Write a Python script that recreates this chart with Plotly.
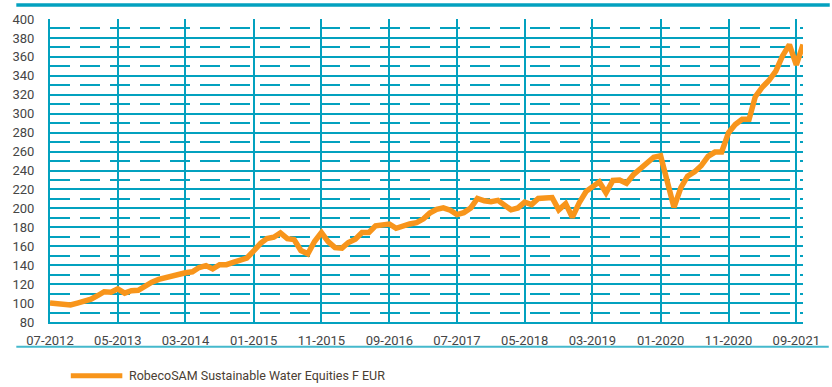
import pandas as pd
import plotly.graph_objects as go

# Monthly index level, starting July 2012 (base 100)
start_month = "2012-07-01"
fund_name = "RobecoSAM Sustainable Water Equities F EUR"
fund_values = [
    100, 99.5, 99.5, 98, 100, 102, 104, 108, 112, 111.5,
    115, 110.5, 113, 113.5, 118, 122, 125, 127, 128, 131.5,
    132, 133, 137.5, 139.5, 136, 140.5, 140.5, 143, 145, 147.5,
    155, 163, 168, 169.5, 174, 168, 167, 155.5, 152, 165,
    174.5, 165, 158.5, 158, 164, 167.5, 174.5, 174.5, 181.5, 183,
    183.5, 179, 182, 183.5, 185, 189, 195, 199, 200.5, 198,
    193.5, 195.5, 200.5, 210.5, 208, 207, 208.5, 202.5, 198.5, 200.5,
    206.5, 204, 210.5, 211, 211.5, 198.5, 205, 190.5, 206, 218,
    223, 228, 216.5, 229.5, 230, 226.5, 235.5, 241, 248, 254,
    255.5, 230, 201, 222, 234, 238.5, 245, 255, 259.5, 259.5,
    280, 288.5, 294, 294, 318, 328, 335, 345, 361, 373,
    351.5, 373,
]
dates = pd.date_range(start_month, periods=len(fund_values), freq="MS")

y_range = [80, 400]
y_step = 20
x_tick_step_months = 10

TEAL = "#03a1bf"
TEAL_LIGHT = "#45b9cc"
ORANGE = "#f8951b"
TEXT = "#454545"
LEGEND_TEXT = "#4a3e33"
FONT = "Roboto, 'Noto Sans', sans-serif"

fig = go.Figure()
fig.add_trace(
    go.Scatter(
        x=dates,
        y=fund_values,
        mode="lines",
        name=fund_name,
        line=dict(color=ORANGE, width=5.5, shape="linear"),
        showlegend=False,
        hoverinfo="x+y",
    )
)

# Geometry helpers (paper coordinates) for decorative rules and legend
L, R, T, B = 45, 27, 17, 65
W, H = 832, 387
pw, ph = W - L - R, H - T - B


def px_x(x):
    return (x - L) / pw


def px_y(y):
    return (H - B - y) / ph


shapes = [
    # heavy rule across the top of the panel
    dict(type="line", xref="paper", yref="paper",
         x0=px_x(11), x1=px_x(832), y0=px_y(3), y1=px_y(3),
         line=dict(color=TEAL, width=3.5)),
    # thin rule under the axis labels
    dict(type="line", xref="paper", yref="paper",
         x0=px_x(11), x1=px_x(831), y0=px_y(346.8), y1=px_y(346.8),
         line=dict(color=TEAL_LIGHT, width=2)),
    # legend swatch
    dict(type="line", xref="paper", yref="paper",
         x0=px_x(66), x1=px_x(118), y0=px_y(376), y1=px_y(376),
         line=dict(color=ORANGE, width=5)),
]

annotations = [
    dict(text=fund_name, xref="paper", yref="paper",
         x=px_x(123), y=px_y(376), xanchor="left", yanchor="middle",
         showarrow=False, font=dict(family=FONT, size=12.5, color=LEGEND_TEXT)),
]

fig.update_layout(
    width=W,
    height=H,
    margin=dict(l=L, r=R, t=T, b=B, pad=0),
    paper_bgcolor="white",
    plot_bgcolor="white",
    font=dict(family=FONT, size=13, color=TEXT),
    shapes=shapes,
    annotations=annotations,
    showlegend=False,
)

fig.update_xaxes(
    type="date",
    range=[dates[0], dates[-1]],
    tick0=start_month,
    dtick=f"M{x_tick_step_months}",
    tickformat="%m-%Y",
    showgrid=True,
    gridcolor=TEAL,
    gridwidth=2,
    showline=True,
    linecolor=TEAL,
    linewidth=2,
    mirror=False,
    ticks="",
    ticklabelstandoff=5,
    zeroline=False,
)

fig.update_yaxes(
    range=y_range,
    tick0=0,
    dtick=y_step,
    showgrid=True,
    gridcolor=TEAL,
    gridwidth=2,
    showline=True,
    linecolor=TEAL,
    linewidth=2,
    ticks="",
    ticklabelstandoff=11,
    zeroline=False,
    minor=dict(
        dtick=y_step / 2,
        tick0=y_step / 2,
        showgrid=True,
        gridcolor=TEAL,
        gridwidth=2,
        griddash="20px,10px",
    ),
)

fig.write_html("out.html")
